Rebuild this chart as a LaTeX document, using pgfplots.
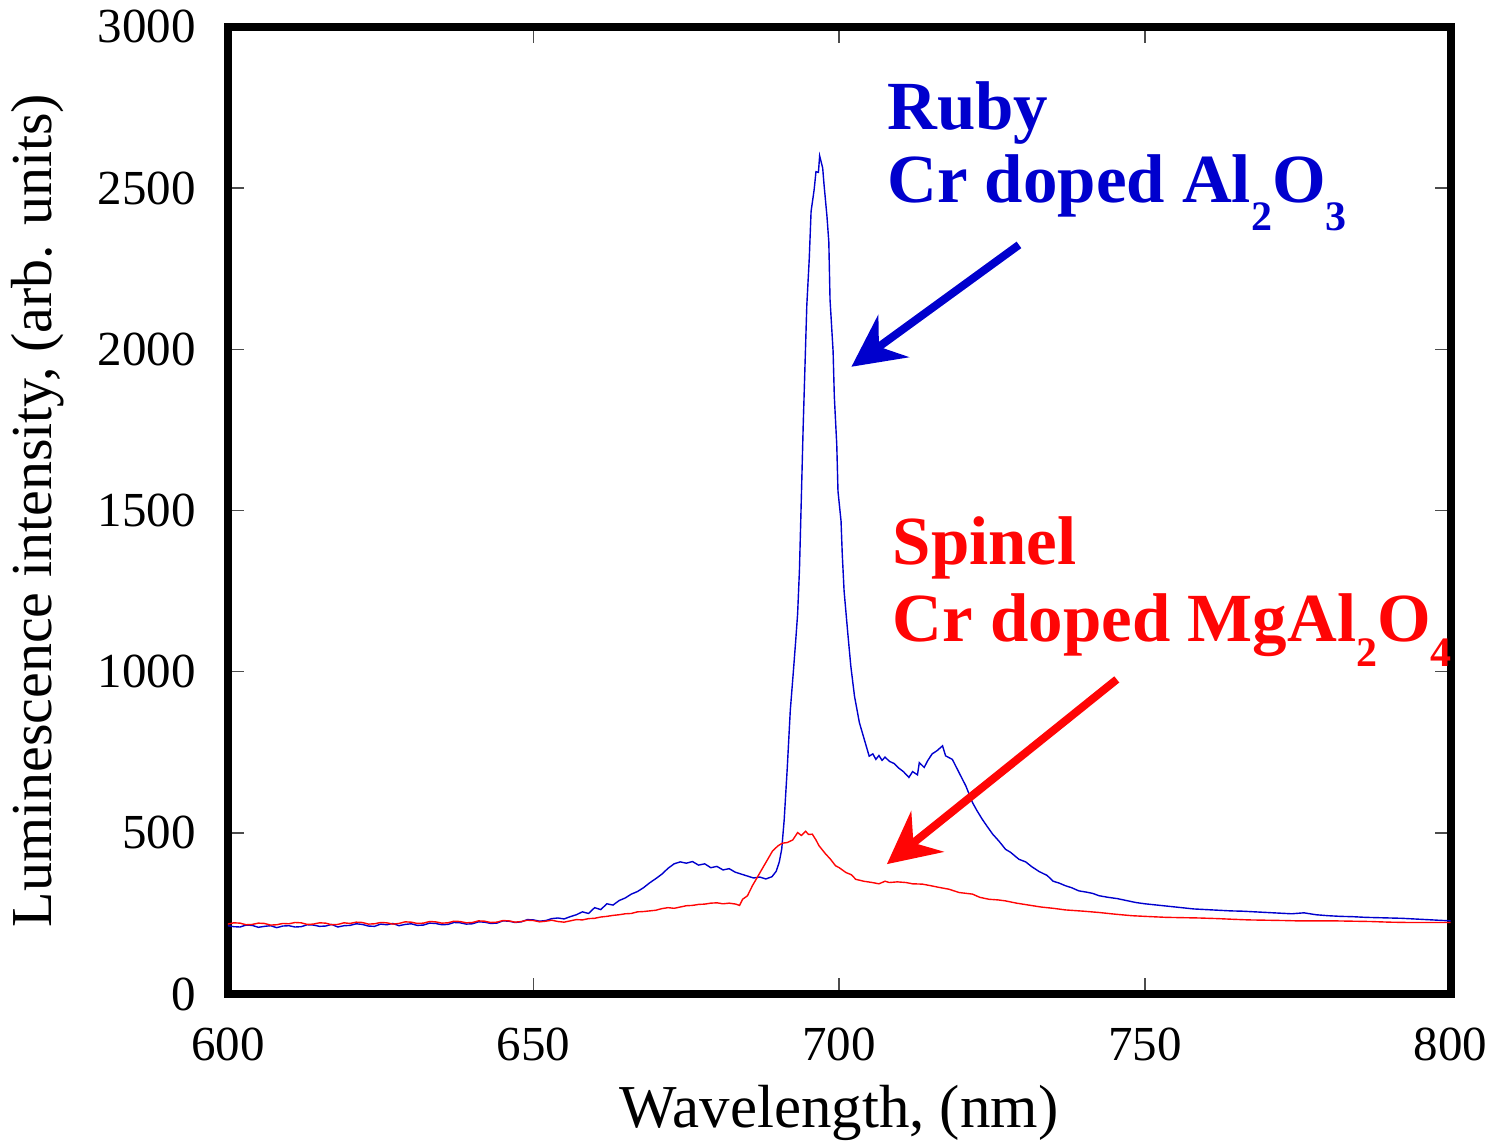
\documentclass[border=0pt]{standalone}
\usepackage{pgfplots}
\pgfplotsset{compat=1.18}
\usepackage{fontspec}
\setmainfont{Liberation Serif}
\usetikzlibrary{arrows.meta}
\definecolor{rubyblue}{RGB}{0,0,205}
\definecolor{spred}{RGB}{255,5,5}
\begin{document}
\begin{tikzpicture}
\begin{axis}[name=ax,
 scale only axis, width=612pt, height=484pt,
 xmin=600,xmax=800,ymin=0,ymax=3000,
 xtick={600,650,...,800}, ytick={0,500,...,3000},
 tick align=inside, major tick length=8pt,
 tick style={black!70, line width=0.8pt},
 axis line style={line width=4pt},
 ticklabel style={font=\fontsize{24.5}{28}\selectfont},
 xticklabel style={yshift=-13.5pt},
 yticklabel style={xshift=-12.5pt},
 /pgf/number format/assume math mode=true,
 /pgf/number format/1000 sep={},
 xlabel={Wavelength, (nm)}, ylabel={Luminescence intensity, (arb. units)},
 xlabel style={font=\fontsize{30.5}{34}\selectfont, yshift=-5pt},
 ylabel style={font=\fontsize{29}{32}\selectfont, yshift=10pt},
 clip mode=individual,
]
\addplot[rubyblue, line width=0.7pt] coordinates {
(600,212)(601,209)(602,208)(603,214)(604,213)(605,207)(606,210)(607,212)(608,206)(609,211)(610,212)(611,208)(612,209)(613,215)(614,214)(615,210)(616,211)(617,216)(618,208)(619,212)(620,213)(621,218)(622,216)(623,211)(624,210)(625,217)(626,215)(627,219)(628,212)(629,216)(630,218)(631,213)(632,214)(633,220)(634,219)(635,215)(636,216)(637,222)(638,221)(639,217)(640,218)(641,224)(642,223)(643,219)(644,220)(645,227)(646,226)(647,222)(648,224)(649,231)(650,230)(651,226)(652,228)(653,234)(654,236)(655,233)(656,240)(657,246)(658,255)(659,250)(660,268)(661,262)(662,280)(663,276)(664,290)(665,298)(666,310)(667,318)(668,330)(669,345)(670,358)(671,372)(672,390)(673,404)(674,410)(675,406)(676,411)(677,400)(678,404)(679,392)(680,396)(681,385)(682,389)(683,378)(684,372)(685,366)(686,360)(687,363)(688,357)(689,364)(689.7,381)(690.2,410)(690.6,450)(691,540)(691.5,700)(692,880)(692.5,1000)(692.9,1100)(693.2,1180)(693.5,1317)(693.8,1534)(694.1,1756)(694.4,1947)(694.7,2136)(695.1,2281)(695.4,2428)(695.9,2495)(696.2,2551)(696.6,2549)(696.8,2600)(697.3,2562)(697.5,2515)(698.0,2412)(698.3,2333)(698.5,2154)(699.0,1994)(699.2,1854)(699.6,1704)(699.8,1560)(700.3,1467)(700.5,1364)(700.8,1250)(701.4,1120)(701.9,1017)(702.5,924)(703.3,842)(704.1,790)(704.9,738)(705.5,745)(706,728)(706.5,740)(707,725)(707.5,735)(708.2,722)(709,715)(709.8,700)(710.5,690)(711.4,672)(712,690)(712.8,680)(713.1,718)(713.9,703)(714.5,725)(715.2,745)(716,755)(716.9,770)(717.4,739)(718.5,728)(719.6,687)(720.7,646)(721.8,594)(722.5,570)(723.4,542)(724.2,520)(725.1,496)(726.1,475)(727.2,449)(728,440)(729.4,418)(730.5,410)(731.5,395)(732.7,380)(734,368)(735,350)(736,344)(737,336)(738,330)(739.2,320)(740.5,316)(741.5,312)(742.5,305)(744,300)(745.5,296)(747,290)(748.5,284)(750,280)(752,276)(754,272)(756,268)(758,264)(760,262)(762,260)(764,258)(766,257)(768,255)(770,253)(772,251)(774,249)(776,252)(778,246)(780,243)(782,241)(784,240)(786,238)(788,237)(790,236)(792,235)(794,233)(796,231)(798,229)(800,227)
};
\addplot[spred, line width=0.7pt] coordinates {
(600,217)(601,221)(602,220)(603,215)(604,216)(605,220)(606,219)(607,214)(608,215)(609,219)(610,218)(611,222)(612,221)(613,216)(614,217)(615,221)(616,220)(617,215)(618,216)(619,221)(620,219)(621,223)(622,222)(623,217)(624,218)(625,222)(626,221)(627,217)(628,219)(629,224)(630,223)(631,219)(632,220)(633,225)(634,224)(635,220)(636,221)(637,226)(638,225)(639,221)(640,222)(641,227)(642,226)(643,222)(644,223)(645,228)(646,227)(647,223)(648,225)(649,229)(650,228)(651,224)(652,226)(653,229)(654,225)(655,223)(656,227)(657,231)(658,230)(659,234)(660,235)(661,239)(662,241)(663,244)(664,246)(665,249)(666,250)(667,255)(668,256)(669,258)(670,260)(671,265)(672,268)(673,266)(674,270)(675,274)(676,275)(677,278)(678,279)(679,282)(680,283)(681,280)(682,282)(683.1,279)(683.7,275)(684.2,294)(685,305)(685.8,336)(686.9,372)(688,408)(689.1,444)(690,460)(690.7,468)(691.5,470)(692.4,478)(693.2,501)(693.8,492)(694.5,505)(695,495)(695.6,496)(696.2,478)(696.7,460)(697.8,434)(698.5,420)(699.4,398)(700,392)(701.1,377)(702,370)(702.7,356)(704,350)(705.4,346)(706.5,342)(707.5,350)(708.2,346)(709.5,348)(710.9,346)(712,342)(713.6,341)(715,336)(716.3,331)(718,325)(719.6,315)(721.8,310)(723,300)(724.5,294)(726,292)(727.2,289)(729,282)(731,276)(733,270)(735,266)(737,261)(740,257)(742.5,253)(745,248)(747.9,243)(750,241)(753.4,238)(756,237)(758.8,236)(762,234)(764.3,232)(767,230)(770,229)(773,228)(775,227)(778,227)(781,227)(784,226)(787,225)(790,223)(793,222)(796,222)(800,222)
};
\node[anchor=base west, inner sep=0pt, text=rubyblue, font=\fontsize{34.5}{36}\selectfont\bfseries] at (axis cs:707.8,2681) {Ruby};
\node[anchor=base west, inner sep=0pt, text=rubyblue, font=\fontsize{34.5}{36}\selectfont\bfseries] at (axis cs:707.8,2454) {Cr doped Al\raisebox{-14pt}{\fontsize{21}{21}\selectfont 2}O\raisebox{-14pt}{\fontsize{21}{21}\selectfont 3}};
\node[anchor=base west, inner sep=0pt, text=spred, font=\fontsize{34.5}{36}\selectfont\bfseries] at (axis cs:708.7,1333) {Spinel};
\node[anchor=base west, inner sep=0pt, text=spred, font=\fontsize{34.5}{36}\selectfont\bfseries] at (axis cs:708.7,1094) {Cr doped MgAl\raisebox{-12.5pt}{\fontsize{21}{21}\selectfont 2}O\raisebox{-12.5pt}{\fontsize{21}{21}\selectfont 4}};
\draw[rubyblue, line width=4pt, -{Stealth[length=26pt,width=26pt,inset=9pt]}] (axis cs:729.4,2324) -- (axis cs:702.0,1946);
\draw[spred, line width=4pt, -{Stealth[length=26pt,width=26pt,inset=9pt]}] (axis cs:745.4,976) -- (axis cs:707.8,403);
\end{axis}
\path (ax.south west) ++(-114pt,-70.5pt);
\path (ax.north west) ++(0,13.5pt);
\end{tikzpicture}
\end{document}
